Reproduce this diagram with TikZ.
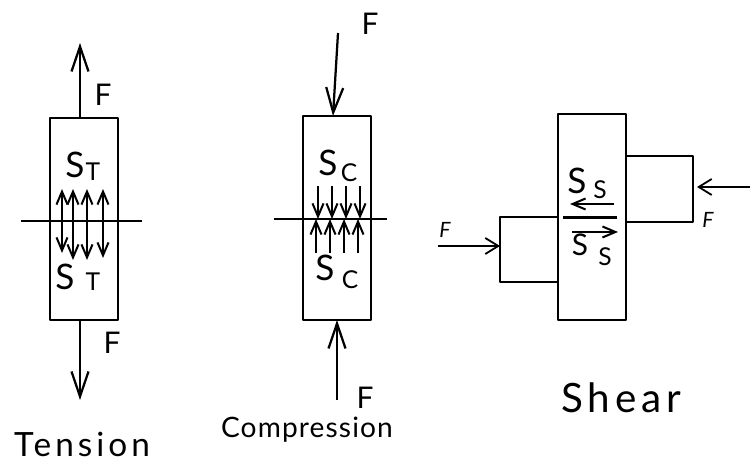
\documentclass[tikz,border=0pt]{standalone}
\usepackage{fontspec}
\setmainfont{Lato}
\newfontfamily\titlefont[LetterSpace=12]{Lato}
\newfontfamily\tighttitlefont[LetterSpace=4]{Lato}
\usetikzlibrary{arrows.meta}
\tikzset{
	body/.style={line width=0.5mm, line join=round},
	thinline/.style={line width=0.34mm},
	force/.style={line width=0.45mm, -{Straight Barb[length=5mm,width=3.4mm]}},
	shortforce/.style={line width=0.36mm, -{Straight Barb[length=2.6mm,width=3.2mm]}},
	stress/.style={line width=0.4mm, -{Straight Barb[length=2.6mm,width=2.2mm]}},
	forcelabel/.style={inner sep=0pt, font=\fontsize{17}{17}\selectfont},
	smallforcelabel/.style={inner sep=0pt, font=\itshape\fontsize{12}{12}\selectfont},
	stresslabel/.style={inner sep=0pt, font=\fontsize{20}{20}\selectfont},
	sublabel/.style={inner sep=0pt, font=\fontsize{14}{14}\selectfont},
	titlelabel/.style={inner sep=0pt, font=\titlefont\fontsize{19}{19}\selectfont}
}

\begin{document}
\begin{tikzpicture}
	\useasboundingbox (0, 0) rectangle (15.02, 9.28);
	%%%%% TENSION %%%%%
	\draw[body] (1.0, 6.92) rectangle (2.36, 2.88);
	\draw[thinline] (0.42, 4.86) -- (2.84, 4.86);
	\draw[force] (1.6, 6.92) -- (1.6, 8.42);
	\draw[force] (1.6, 2.88) -- (1.6, 1.28);
	\draw[stress] (1.24, 4.86) -- (1.24, 5.5);
	\draw[stress] (1.46, 4.86) -- (1.46, 5.5);
	\draw[stress] (1.74, 4.86) -- (1.74, 5.5);
	\draw[stress] (2.06, 4.86) -- (2.06, 5.5);
	\draw[stress] (1.24, 4.86) -- (1.24, 4.22);
	\draw[stress] (1.46, 4.86) -- (1.46, 4.08);
	\draw[stress] (1.74, 4.86) -- (1.74, 4.08);
	\draw[stress] (2.06, 4.86) -- (2.06, 4.12);
	\node[forcelabel] (tensionTopF) at (2.06, 7.38) {F};
	\node[forcelabel] (tensionBottomF) at (2.24, 2.42) {F};
	\node[stresslabel] (tensionTopS) at (1.5, 5.98) {S};
	\node[sublabel] (tensionTopT) at (1.86, 5.84) {T};
	\node[stresslabel] (tensionBottomS) at (1.3, 3.74) {S};
	\node[sublabel] (tensionBottomT) at (1.86, 3.64) {T};
	\node[titlelabel] (tensionTitle) at (1.64, 0.4) {Tension};
	%%%%% COMPRESSION %%%%%
	\draw[body] (6.06, 6.96) rectangle (7.42, 2.88);
	\draw[thinline] (5.48, 4.9) -- (7.74, 4.9);
	\draw[force] (6.76, 8.62) -- (6.66, 6.96);
	\draw[force] (6.74, 1.28) -- (6.74, 2.88);
	\draw[stress] (6.36, 5.56) -- (6.36, 4.9);
	\draw[stress] (6.64, 5.56) -- (6.64, 4.9);
	\draw[stress] (6.92, 5.56) -- (6.92, 4.9);
	\draw[stress] (7.2, 5.56) -- (7.2, 4.9);
	\draw[stress] (6.32, 4.22) -- (6.32, 4.9);
	\draw[stress] (6.6, 4.22) -- (6.6, 4.9);
	\draw[stress] (6.88, 4.22) -- (6.88, 4.9);
	\draw[stress] (7.16, 4.22) -- (7.16, 4.9);
	\node[forcelabel] (compressionTopF) at (7.4, 8.8) {F};
	\node[forcelabel] (compressionBottomF) at (7.3, 1.32) {F};
	\node[stresslabel] (compressionTopS) at (6.56, 6.02) {S};
	\node[sublabel] (compressionTopC) at (6.98, 5.82) {C};
	\node[stresslabel] (compressionBottomS) at (6.5, 3.92) {S};
	\node[sublabel] (compressionBottomC) at (7.0, 3.68) {C};
	\node[titlelabel, font=\tighttitlefont\fontsize{16}{16}\selectfont] (compressionTitle) at (6.14, 0.68) {Compression};
	%%%%% SHEAR %%%%%
	\draw[body] (11.16, 7.0) rectangle (12.52, 2.88);
	\draw[body] (12.52, 6.16) -- (13.86, 6.16) -- (13.86, 4.84) -- (12.52, 4.84);
	\draw[body] (11.16, 4.94) -- (10.0, 4.94) -- (10.0, 3.64) -- (11.16, 3.64);
	\draw[line width=0.6mm] (11.26, 4.92) -- (12.34, 4.92);
	\draw[shortforce] (15.0, 5.54) -- (13.94, 5.54);
	\draw[shortforce] (8.76, 4.36) -- (10.0, 4.36);
	\draw[stress] (12.28, 5.2) -- (11.4, 5.2);
	\draw[stress] (11.44, 4.64) -- (12.36, 4.64);
	\node[smallforcelabel] (shearRightF) at (14.16, 4.88) {F};
	\node[smallforcelabel] (shearLeftF) at (8.9, 4.68) {F};
	\node[stresslabel] (shearTopS) at (11.54, 5.66) {S};
	\node[sublabel] (shearTopSub) at (12.0, 5.48) {S};
	\node[stresslabel, font=\fontsize{17}{17}\selectfont] (shearBottomS) at (11.6, 4.38) {S};
	\node[sublabel] (shearBottomSub) at (12.1, 4.14) {S};
	\node[titlelabel, font=\titlefont\fontsize{23}{23}\selectfont] (shearTitle) at (12.42, 1.32) {Shear};
	%%%%% END %%%%%
\end{tikzpicture}
\end{document}
